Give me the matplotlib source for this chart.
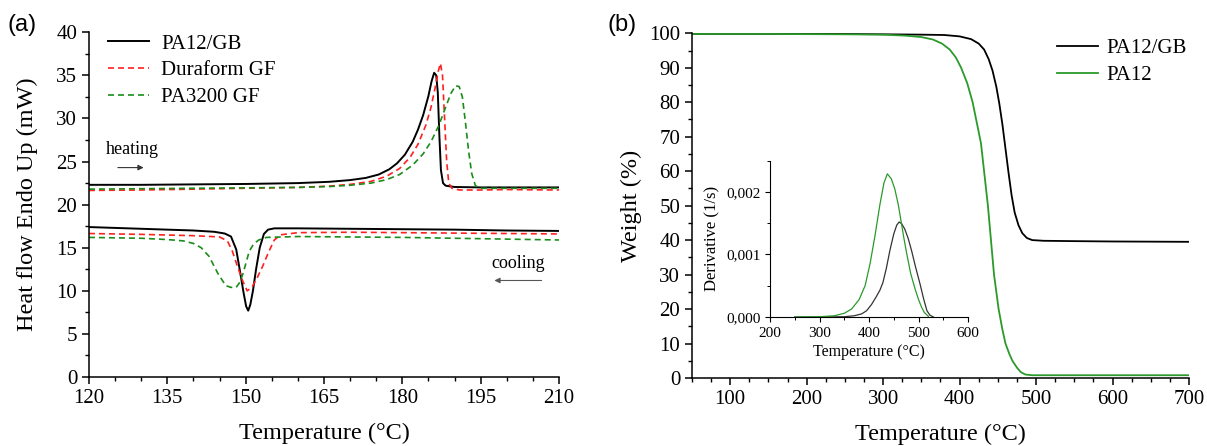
import matplotlib
matplotlib.use("Agg")
from matplotlib import pyplot as plt
from matplotlib.ticker import MultipleLocator, FuncFormatter

# ---- (a) DSC data ----
heat_gb_t = [120, 130, 140, 150, 160, 166, 170, 173, 175.5, 177.5, 179, 180.5, 182, 183, 184, 185,
             185.6, 186.1, 186.5, 186.8, 187.1, 187.4, 187.8, 188.3, 190, 195, 200, 210]
heat_gb_v = [22.3, 22.3, 22.35, 22.4, 22.5, 22.65, 22.85, 23.1, 23.5, 24.1, 24.8, 25.8, 27.3, 28.7, 30.4, 32.6,
             34.3, 35.3, 35.0, 33.0, 28.0, 24.0, 22.5, 22.2, 22.05, 22.0, 22.0, 22.0]

heat_df_t = [120, 130, 140, 150, 160, 166, 170, 174, 177, 179.5, 181.5, 183, 184.5, 185.5, 186.3, 186.9,
             187.3, 187.7, 188.1, 188.5, 188.9, 189.5, 191, 195, 200, 210]
heat_df_v = [21.65, 21.7, 21.8, 21.9, 22.0, 22.15, 22.35, 22.7, 23.3, 24.2, 25.5, 27.0, 29.2, 31.3, 33.6, 35.5,
             36.4, 35.0, 30.0, 25.0, 22.5, 21.9, 21.7, 21.7, 21.75, 21.7]

heat_pa_t = [120, 130, 140, 150, 160, 166, 170, 174, 177, 179.5, 182, 184, 185.5, 187, 188.3, 189.3, 190.2,
             190.9, 191.5, 192.1, 192.7, 193.3, 194, 195, 200, 210]
heat_pa_v = [21.8, 21.85, 21.9, 21.95, 22.0, 22.1, 22.25, 22.5, 22.9, 23.5, 24.6, 25.9, 27.3, 29.2, 31.3, 32.9, 33.8,
             33.7, 32.5, 29.5, 26.2, 23.6, 22.2, 21.9, 21.9, 21.9]

cool_gb_t = [120, 130, 140, 144, 146, 147.2, 148.2, 149.0, 149.6, 150.1, 150.5, 150.9, 151.4, 152.0, 152.7,
             153.5, 154.3, 155.5, 160, 170, 180, 190, 200, 210]
cool_gb_v = [17.4, 17.2, 17.0, 16.85, 16.65, 16.3, 14.8, 12.0, 9.8, 8.2, 7.7, 8.4, 10.0, 12.5, 15.0,
             16.6, 17.1, 17.25, 17.25, 17.2, 17.15, 17.1, 17.0, 16.95]

cool_df_t = [120, 130, 140, 145, 146.5, 147.4, 148.4, 149.4, 150.3, 151.2, 152.2, 153.3, 154.4, 155.5, 156.7,
             160, 170, 180, 190, 200, 210]
cool_df_v = [16.65, 16.55, 16.4, 16.25, 15.8, 14.7, 12.9, 11.2, 10.0, 10.4, 11.5, 12.9, 14.5, 15.9, 16.5,
             16.75, 16.8, 16.75, 16.7, 16.65, 16.6]

cool_pa_t = [120, 130, 135, 138, 140, 141.5, 143, 144.7, 146.2, 147.2, 148.2, 148.9, 149.5, 150.1, 150.7,
             151.5, 152.5, 154, 160, 170, 180, 190, 200, 210]
cool_pa_v = [16.2, 16.1, 15.95, 15.8, 15.5, 15.0, 14.0, 12.0, 10.6, 10.4, 10.4, 11.0, 12.0, 13.3, 14.6,
             15.4, 15.9, 16.2, 16.3, 16.25, 16.2, 16.1, 16.0, 15.9]

# ---- (b) TGA data ----
tga_gb_t = [50, 150, 250, 300, 350, 380, 400, 415, 425, 432, 438, 443, 448, 452, 456, 460, 464, 468, 472,
            477, 482, 488, 495, 510, 550, 600, 700]
tga_gb_v = [99.8, 99.8, 99.8, 99.7, 99.6, 99.5, 99.1, 98.3, 97.0, 95.3, 92.5, 89.2, 84.5, 79.5, 73.5, 66.5,
            59.5, 53.0, 48.0, 44.3, 42.0, 40.6, 40.0, 39.8, 39.7, 39.6, 39.5]

tga_pa_t = [50, 150, 250, 300, 330, 350, 365, 377, 387, 395, 402, 410, 417, 423, 428, 432, 437, 441, 445,
            451, 456, 460, 465, 469, 475, 480, 486, 495, 550, 700]
tga_pa_v = [99.8, 99.8, 99.7, 99.6, 99.3, 98.9, 98.2, 97.0, 95.3, 93.0, 90.0, 85.5, 80.0, 73.5, 68.0,
            60.0, 50.0, 40.0, 30.0, 20.0, 14.0, 10.0, 7.0, 5.0, 3.0, 1.7, 1.0, 0.8, 0.8, 0.8]

# inset derivative
dtg_gb_t = [250, 300, 350, 370, 385, 395, 405, 415, 422, 428, 435, 442, 450, 456, 461, 466, 472, 479, 486,
            494, 503, 510, 517, 523, 530]
dtg_gb_v = [0, 0, 0.000005, 0.00002, 0.00005, 0.0001, 0.0002, 0.00033, 0.00043, 0.00055, 0.00078, 0.00106,
            0.00133, 0.00147, 0.00152, 0.00149, 0.00141, 0.00126, 0.00106, 0.0008, 0.00053, 0.0003, 0.0001,
            0.00003, 0]

dtg_pa_t = [250, 300, 330, 350, 365, 380, 392, 402, 412, 422, 430, 437, 445, 452, 459, 465, 470, 476, 484,
            493, 500, 506, 512, 520]
dtg_pa_v = [0, 0.000005, 0.00002, 0.00006, 0.00013, 0.00028, 0.0005, 0.00085, 0.0013, 0.0018, 0.00214,
            0.00229, 0.00221, 0.00205, 0.0018, 0.00152, 0.00128, 0.00102, 0.0007, 0.00045, 0.00028, 0.00016,
            0.00007, 0.00001]

plt.rcParams["font.family"] = ["Liberation Serif", "DejaVu Serif"]
plt.rcParams["axes.linewidth"] = 1.1

fig = plt.figure(figsize=(12.07, 4.46), dpi=100)


def style_axes(ax, size=12.5):
    for s in ["top", "right"]:
        ax.spines[s].set_visible(False)
    ax.tick_params(which="major", direction="out", length=5, width=1.1, labelsize=size)
    ax.tick_params(which="minor", direction="out", length=3, width=1.0)


# ---- panel (a) ----
ax1 = fig.add_axes([0.0737, 0.1547, 0.3894, 0.7729])
dash = (0, (3.6, 2.4))
ax1.plot(heat_gb_t, heat_gb_v, color="black", lw=1.4, label="PA12/GB")
ax1.plot(heat_df_t, heat_df_v, color="#ff2020", lw=1.2, ls=dash, label="Duraform GF")
ax1.plot(heat_pa_t, heat_pa_v, color="#1a8c1a", lw=1.2, ls=dash, label="PA3200 GF")
ax1.plot(cool_gb_t, cool_gb_v, color="black", lw=1.4)
ax1.plot(cool_df_t, cool_df_v, color="#ff2020", lw=1.2, ls=dash)
ax1.plot(cool_pa_t, cool_pa_v, color="#1a8c1a", lw=1.2, ls=dash)
ax1.set_xlim(120, 210)
ax1.set_ylim(0, 40)
ax1.xaxis.set_major_locator(MultipleLocator(15))
ax1.xaxis.set_minor_locator(MultipleLocator(5))
ax1.yaxis.set_major_locator(MultipleLocator(5))
ax1.yaxis.set_minor_locator(MultipleLocator(2.5))
style_axes(ax1, 15)
ax1.set_xlabel("Temperature (°C)", fontsize=17.5, labelpad=11)
ax1.set_ylabel("Heat flow Endo Up (mW)", fontsize=17.5, labelpad=13)
ax1.legend(loc="upper left", bbox_to_anchor=(0.04, 0.995), frameon=False, fontsize=15,
           handlelength=2.0, handletextpad=0.56, labelspacing=0.35, borderpad=0, borderaxespad=0)

ax1.text(128.4, 26.4, "heating", fontsize=13, ha="center", va="center")
ax1.annotate("", xy=(131, 24.3), xytext=(125, 24.3),
             arrowprops=dict(arrowstyle="-|>", color="#333333", lw=0.8, mutation_scale=8))
ax1.text(202.2, 13.2, "cooling", fontsize=13, ha="center", va="center")
ax1.annotate("", xy=(197.1, 11.2), xytext=(207.2, 11.2),
             arrowprops=dict(arrowstyle="-|>", color="#555555", lw=0.8, mutation_scale=8))

fig.text(0.018, 0.945, "(a)", fontsize=17, family="Liberation Sans", ha="center", va="center")

# ---- panel (b) ----
ax2 = fig.add_axes([0.5733, 0.1525, 0.4118, 0.7729])
ax2.plot(tga_gb_t, tga_gb_v, color="black", lw=1.3, label="PA12/GB")
ax2.plot(tga_pa_t, tga_pa_v, color="#2a9a2a", lw=1.3, label="PA12")
ax2.set_xlim(50, 700)
ax2.set_ylim(0, 100)
ax2.xaxis.set_major_locator(MultipleLocator(100))
ax2.xaxis.set_minor_locator(MultipleLocator(25))
ax2.yaxis.set_major_locator(MultipleLocator(10))
ax2.yaxis.set_minor_locator(MultipleLocator(5))
style_axes(ax2, 15)
ax2.set_xlabel("Temperature (°C)", fontsize=17.5, labelpad=11)
ax2.set_ylabel("Weight (%)", fontsize=17.5, labelpad=5)
ax2.legend(loc="upper left", bbox_to_anchor=(0.734, 0.985), frameon=False, fontsize=15,
           handlelength=2.0, handletextpad=0.4, labelspacing=0.35, borderpad=0, borderaxespad=0)

fig.text(0.515, 0.945, "(b)", fontsize=17, family="Liberation Sans", ha="center", va="center")

# ---- inset ----
ax3 = fig.add_axes([0.638, 0.2892, 0.164, 0.3505])
ax3.plot(dtg_gb_t, dtg_gb_v, color="#333333", lw=0.9)
ax3.plot(dtg_pa_t, dtg_pa_v, color="#2a9a2a", lw=0.9)
ax3.set_xlim(200, 600)
ax3.set_ylim(0, 0.0025)
ax3.xaxis.set_major_locator(MultipleLocator(100))
ax3.xaxis.set_minor_locator(MultipleLocator(50))
ax3.yaxis.set_major_locator(MultipleLocator(0.001))
ax3.yaxis.set_minor_locator(MultipleLocator(0.0005))
ax3.yaxis.set_major_formatter(FuncFormatter(lambda v, p: f"{v:.3f}".replace(".", ",")))
style_axes(ax3, 11)
ax3.tick_params(which="major", length=3.5, width=0.8)
ax3.tick_params(which="minor", length=2, width=0.7)
for s in ["left", "bottom"]:
    ax3.spines[s].set_linewidth(0.8)
ax3.set_xlabel("Temperature (°C)", fontsize=11.5, labelpad=3)
ax3.set_ylabel("Derivative (1/s)", fontsize=12, labelpad=4)

fig.savefig("out.png", dpi=100)
